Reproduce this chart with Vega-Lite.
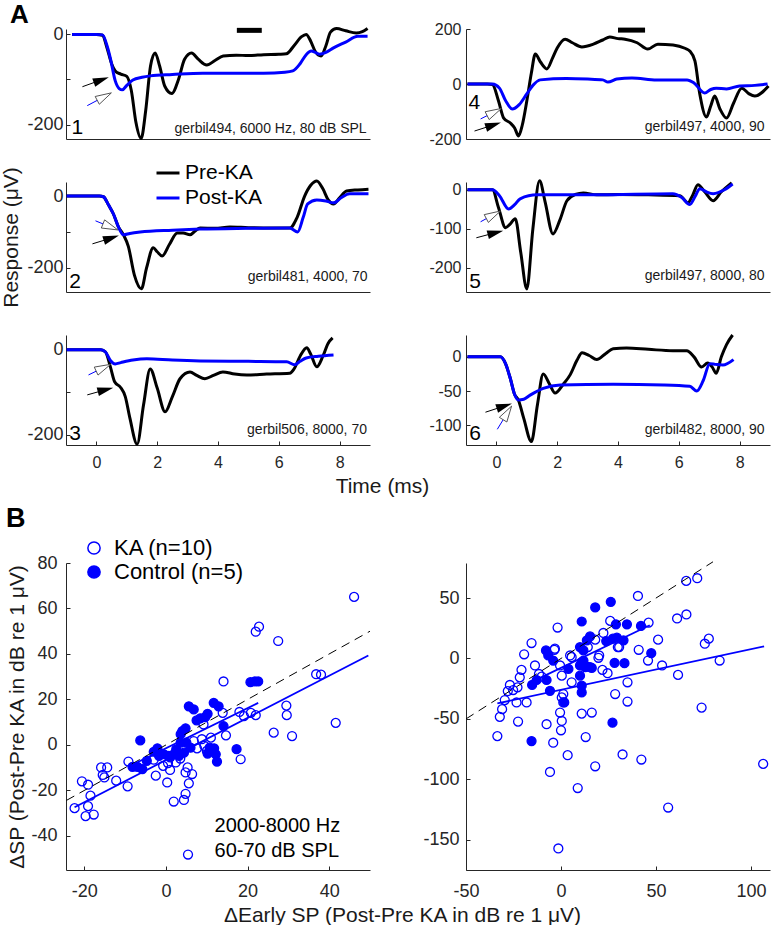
{
"$schema":"https://vega.github.io/schema/vega-lite/v6.json",
"autosize":{"type":"pad"},
"padding":{"left":0,"top":1,"right":0,"bottom":0},
"config":{"font":"Liberation Sans","view":{"stroke":null},
 "axis":{"grid":false,"tickSize":4,"domainColor":"#262626","tickColor":"#262626","labelColor":"#262626","titleColor":"#1a1a1a","titleFontWeight":"normal","domainWidth":1,"tickWidth":1},
 "legend":{"labelFont":"Liberation Sans"}},
"datasets":{
"tr":[
{"p":1,"s":"Pre-KA","t":-0.8,"v":0},{"p":1,"s":"Pre-KA","t":0.0,"v":0},{"p":1,"s":"Pre-KA","t":0.2,"v":-2},{"p":1,"s":"Pre-KA","t":0.35,"v":-30},{"p":1,"s":"Pre-KA","t":0.5,"v":-65},{"p":1,"s":"Pre-KA","t":0.62,"v":-81},{"p":1,"s":"Pre-KA","t":0.8,"v":-88},{"p":1,"s":"Pre-KA","t":1.0,"v":-93},{"p":1,"s":"Pre-KA","t":1.15,"v":-125},{"p":1,"s":"Pre-KA","t":1.3,"v":-195},{"p":1,"s":"Pre-KA","t":1.47,"v":-231},{"p":1,"s":"Pre-KA","t":1.62,"v":-170},{"p":1,"s":"Pre-KA","t":1.78,"v":-70},{"p":1,"s":"Pre-KA","t":1.93,"v":-41},{"p":1,"s":"Pre-KA","t":2.08,"v":-70},{"p":1,"s":"Pre-KA","t":2.25,"v":-115},{"p":1,"s":"Pre-KA","t":2.48,"v":-131},{"p":1,"s":"Pre-KA","t":2.7,"v":-100},{"p":1,"s":"Pre-KA","t":2.9,"v":-55},{"p":1,"s":"Pre-KA","t":3.13,"v":-41},{"p":1,"s":"Pre-KA","t":3.35,"v":-55},{"p":1,"s":"Pre-KA","t":3.63,"v":-68},{"p":1,"s":"Pre-KA","t":3.9,"v":-58},{"p":1,"s":"Pre-KA","t":4.17,"v":-48},{"p":1,"s":"Pre-KA","t":4.6,"v":-46},{"p":1,"s":"Pre-KA","t":5.0,"v":-47},{"p":1,"s":"Pre-KA","t":5.5,"v":-45},{"p":1,"s":"Pre-KA","t":6.0,"v":-44},{"p":1,"s":"Pre-KA","t":6.25,"v":-43},{"p":1,"s":"Pre-KA","t":6.5,"v":-25},{"p":1,"s":"Pre-KA","t":6.75,"v":-5},{"p":1,"s":"Pre-KA","t":6.9,"v":0},{"p":1,"s":"Pre-KA","t":7.05,"v":-15},{"p":1,"s":"Pre-KA","t":7.2,"v":-38},{"p":1,"s":"Pre-KA","t":7.39,"v":-48},{"p":1,"s":"Pre-KA","t":7.55,"v":-25},{"p":1,"s":"Pre-KA","t":7.7,"v":5},{"p":1,"s":"Pre-KA","t":7.9,"v":13},{"p":1,"s":"Pre-KA","t":8.2,"v":8},{"p":1,"s":"Pre-KA","t":8.55,"v":3},{"p":1,"s":"Pre-KA","t":8.75,"v":6},{"p":1,"s":"Pre-KA","t":8.92,"v":13},
{"p":1,"s":"Post-KA","t":-0.8,"v":0},{"p":1,"s":"Post-KA","t":0.0,"v":0},{"p":1,"s":"Post-KA","t":0.2,"v":-1},{"p":1,"s":"Post-KA","t":0.35,"v":-25},{"p":1,"s":"Post-KA","t":0.46,"v":-53},{"p":1,"s":"Post-KA","t":0.62,"v":-103},{"p":1,"s":"Post-KA","t":0.75,"v":-120},{"p":1,"s":"Post-KA","t":0.85,"v":-123},{"p":1,"s":"Post-KA","t":1.0,"v":-113},{"p":1,"s":"Post-KA","t":1.2,"v":-101},{"p":1,"s":"Post-KA","t":1.5,"v":-95},{"p":1,"s":"Post-KA","t":1.77,"v":-92},{"p":1,"s":"Post-KA","t":2.5,"v":-89},{"p":1,"s":"Post-KA","t":3.5,"v":-86},{"p":1,"s":"Post-KA","t":4.5,"v":-86},{"p":1,"s":"Post-KA","t":5.5,"v":-86},{"p":1,"s":"Post-KA","t":6.2,"v":-84},{"p":1,"s":"Post-KA","t":6.46,"v":-81},{"p":1,"s":"Post-KA","t":6.7,"v":-65},{"p":1,"s":"Post-KA","t":6.9,"v":-45},{"p":1,"s":"Post-KA","t":7.07,"v":-37},{"p":1,"s":"Post-KA","t":7.2,"v":-40},{"p":1,"s":"Post-KA","t":7.34,"v":-44},{"p":1,"s":"Post-KA","t":7.55,"v":-40},{"p":1,"s":"Post-KA","t":7.8,"v":-30},{"p":1,"s":"Post-KA","t":8.2,"v":-17},{"p":1,"s":"Post-KA","t":8.6,"v":-4},{"p":1,"s":"Post-KA","t":8.92,"v":-4},
{"p":2,"s":"Pre-KA","t":-0.98,"v":0},{"p":2,"s":"Pre-KA","t":0.1,"v":0},{"p":2,"s":"Pre-KA","t":0.23,"v":-2},{"p":2,"s":"Pre-KA","t":0.4,"v":-25},{"p":2,"s":"Pre-KA","t":0.56,"v":-50},{"p":2,"s":"Pre-KA","t":0.72,"v":-85},{"p":2,"s":"Pre-KA","t":0.89,"v":-108},{"p":2,"s":"Pre-KA","t":1.05,"v":-140},{"p":2,"s":"Pre-KA","t":1.25,"v":-220},{"p":2,"s":"Pre-KA","t":1.48,"v":-258},{"p":2,"s":"Pre-KA","t":1.65,"v":-200},{"p":2,"s":"Pre-KA","t":1.87,"v":-144},{"p":2,"s":"Pre-KA","t":2.0,"v":-155},{"p":2,"s":"Pre-KA","t":2.16,"v":-167},{"p":2,"s":"Pre-KA","t":2.4,"v":-135},{"p":2,"s":"Pre-KA","t":2.66,"v":-103},{"p":2,"s":"Pre-KA","t":2.85,"v":-103},{"p":2,"s":"Pre-KA","t":3.08,"v":-108},{"p":2,"s":"Pre-KA","t":3.25,"v":-97},{"p":2,"s":"Pre-KA","t":3.41,"v":-89},{"p":2,"s":"Pre-KA","t":3.9,"v":-90},{"p":2,"s":"Pre-KA","t":4.39,"v":-86},{"p":2,"s":"Pre-KA","t":5.0,"v":-88},{"p":2,"s":"Pre-KA","t":5.8,"v":-89},{"p":2,"s":"Pre-KA","t":6.36,"v":-89},{"p":2,"s":"Pre-KA","t":6.6,"v":-60},{"p":2,"s":"Pre-KA","t":6.85,"v":0},{"p":2,"s":"Pre-KA","t":7.05,"v":30},{"p":2,"s":"Pre-KA","t":7.25,"v":42},{"p":2,"s":"Pre-KA","t":7.45,"v":20},{"p":2,"s":"Pre-KA","t":7.62,"v":-10},{"p":2,"s":"Pre-KA","t":7.8,"v":-22},{"p":2,"s":"Pre-KA","t":8.0,"v":-5},{"p":2,"s":"Pre-KA","t":8.23,"v":14},{"p":2,"s":"Pre-KA","t":8.6,"v":17},{"p":2,"s":"Pre-KA","t":8.95,"v":19},
{"p":2,"s":"Post-KA","t":-0.98,"v":0},{"p":2,"s":"Post-KA","t":0.1,"v":0},{"p":2,"s":"Post-KA","t":0.23,"v":-2},{"p":2,"s":"Post-KA","t":0.4,"v":-25},{"p":2,"s":"Post-KA","t":0.56,"v":-50},{"p":2,"s":"Post-KA","t":0.72,"v":-85},{"p":2,"s":"Post-KA","t":0.89,"v":-108},{"p":2,"s":"Post-KA","t":1.1,"v":-104},{"p":2,"s":"Post-KA","t":1.44,"v":-100},{"p":2,"s":"Post-KA","t":2.5,"v":-95},{"p":2,"s":"Post-KA","t":3.41,"v":-92},{"p":2,"s":"Post-KA","t":5.0,"v":-90},{"p":2,"s":"Post-KA","t":6.36,"v":-89},{"p":2,"s":"Post-KA","t":6.62,"v":-100},{"p":2,"s":"Post-KA","t":6.8,"v":-60},{"p":2,"s":"Post-KA","t":6.95,"v":-22},{"p":2,"s":"Post-KA","t":7.25,"v":-11},{"p":2,"s":"Post-KA","t":7.55,"v":-14},{"p":2,"s":"Post-KA","t":7.8,"v":-19},{"p":2,"s":"Post-KA","t":8.05,"v":-5},{"p":2,"s":"Post-KA","t":8.33,"v":6},{"p":2,"s":"Post-KA","t":8.95,"v":6},
{"p":3,"s":"Pre-KA","t":-0.98,"v":0},{"p":3,"s":"Pre-KA","t":0.15,"v":0},{"p":3,"s":"Pre-KA","t":0.3,"v":-5},{"p":3,"s":"Pre-KA","t":0.46,"v":-40},{"p":3,"s":"Pre-KA","t":0.6,"v":-75},{"p":3,"s":"Pre-KA","t":0.79,"v":-88},{"p":3,"s":"Pre-KA","t":0.95,"v":-110},{"p":3,"s":"Pre-KA","t":1.1,"v":-160},{"p":3,"s":"Pre-KA","t":1.34,"v":-222},{"p":3,"s":"Pre-KA","t":1.55,"v":-130},{"p":3,"s":"Pre-KA","t":1.77,"v":-45},{"p":3,"s":"Pre-KA","t":2.0,"v":-90},{"p":3,"s":"Pre-KA","t":2.26,"v":-146},{"p":3,"s":"Pre-KA","t":2.5,"v":-110},{"p":3,"s":"Pre-KA","t":2.75,"v":-68},{"p":3,"s":"Pre-KA","t":3.08,"v":-52},{"p":3,"s":"Pre-KA","t":3.3,"v":-60},{"p":3,"s":"Pre-KA","t":3.57,"v":-68},{"p":3,"s":"Pre-KA","t":3.85,"v":-60},{"p":3,"s":"Pre-KA","t":4.16,"v":-52},{"p":3,"s":"Pre-KA","t":4.55,"v":-57},{"p":3,"s":"Pre-KA","t":4.95,"v":-59},{"p":3,"s":"Pre-KA","t":5.6,"v":-57},{"p":3,"s":"Pre-KA","t":6.36,"v":-55},{"p":3,"s":"Pre-KA","t":6.5,"v":-45},{"p":3,"s":"Pre-KA","t":6.7,"v":-15},{"p":3,"s":"Pre-KA","t":6.92,"v":5},{"p":3,"s":"Pre-KA","t":7.05,"v":-10},{"p":3,"s":"Pre-KA","t":7.25,"v":-40},{"p":3,"s":"Pre-KA","t":7.45,"v":-15},{"p":3,"s":"Pre-KA","t":7.62,"v":15},{"p":3,"s":"Pre-KA","t":7.77,"v":28},
{"p":3,"s":"Post-KA","t":-0.98,"v":0},{"p":3,"s":"Post-KA","t":0.15,"v":0},{"p":3,"s":"Post-KA","t":0.3,"v":-5},{"p":3,"s":"Post-KA","t":0.46,"v":-25},{"p":3,"s":"Post-KA","t":0.62,"v":-33},{"p":3,"s":"Post-KA","t":0.8,"v":-30},{"p":3,"s":"Post-KA","t":1.2,"v":-24},{"p":3,"s":"Post-KA","t":1.66,"v":-21},{"p":3,"s":"Post-KA","t":2.5,"v":-24},{"p":3,"s":"Post-KA","t":3.41,"v":-26},{"p":3,"s":"Post-KA","t":5.0,"v":-27},{"p":3,"s":"Post-KA","t":6.26,"v":-28},{"p":3,"s":"Post-KA","t":6.52,"v":-35},{"p":3,"s":"Post-KA","t":6.7,"v":-27},{"p":3,"s":"Post-KA","t":6.9,"v":-19},{"p":3,"s":"Post-KA","t":7.3,"v":-15},{"p":3,"s":"Post-KA","t":7.8,"v":-12},
{"p":4,"s":"Pre-KA","t":-0.95,"v":0},{"p":4,"s":"Pre-KA","t":-0.3,"v":0},{"p":4,"s":"Pre-KA","t":-0.13,"v":-2},{"p":4,"s":"Pre-KA","t":0.07,"v":-62},{"p":4,"s":"Pre-KA","t":0.24,"v":-124},{"p":4,"s":"Pre-KA","t":0.46,"v":-142},{"p":4,"s":"Pre-KA","t":0.6,"v":-160},{"p":4,"s":"Pre-KA","t":0.73,"v":-189},{"p":4,"s":"Pre-KA","t":0.85,"v":-150},{"p":4,"s":"Pre-KA","t":1.0,"v":-62},{"p":4,"s":"Pre-KA","t":1.15,"v":40},{"p":4,"s":"Pre-KA","t":1.28,"v":109},{"p":4,"s":"Pre-KA","t":1.45,"v":80},{"p":4,"s":"Pre-KA","t":1.66,"v":55},{"p":4,"s":"Pre-KA","t":1.85,"v":95},{"p":4,"s":"Pre-KA","t":2.0,"v":131},{"p":4,"s":"Pre-KA","t":2.26,"v":163},{"p":4,"s":"Pre-KA","t":2.5,"v":150},{"p":4,"s":"Pre-KA","t":2.81,"v":135},{"p":4,"s":"Pre-KA","t":3.19,"v":145},{"p":4,"s":"Pre-KA","t":3.5,"v":160},{"p":4,"s":"Pre-KA","t":3.73,"v":171},{"p":4,"s":"Pre-KA","t":4.0,"v":165},{"p":4,"s":"Pre-KA","t":4.23,"v":163},{"p":4,"s":"Pre-KA","t":4.63,"v":150},{"p":4,"s":"Pre-KA","t":4.98,"v":127},{"p":4,"s":"Pre-KA","t":5.31,"v":145},{"p":4,"s":"Pre-KA","t":5.81,"v":142},{"p":4,"s":"Pre-KA","t":6.2,"v":130},{"p":4,"s":"Pre-KA","t":6.36,"v":120},{"p":4,"s":"Pre-KA","t":6.53,"v":84},{"p":4,"s":"Pre-KA","t":6.69,"v":-36},{"p":4,"s":"Pre-KA","t":6.91,"v":-120},{"p":4,"s":"Pre-KA","t":7.05,"v":-80},{"p":4,"s":"Pre-KA","t":7.18,"v":-44},{"p":4,"s":"Pre-KA","t":7.35,"v":-90},{"p":4,"s":"Pre-KA","t":7.57,"v":-124},{"p":4,"s":"Pre-KA","t":7.8,"v":-70},{"p":4,"s":"Pre-KA","t":8.07,"v":-15},{"p":4,"s":"Pre-KA","t":8.3,"v":-35},{"p":4,"s":"Pre-KA","t":8.5,"v":-44},{"p":4,"s":"Pre-KA","t":8.95,"v":-7},
{"p":4,"s":"Post-KA","t":-0.95,"v":0},{"p":4,"s":"Post-KA","t":-0.13,"v":0},{"p":4,"s":"Post-KA","t":0.1,"v":-15},{"p":4,"s":"Post-KA","t":0.3,"v":-60},{"p":4,"s":"Post-KA","t":0.52,"v":-91},{"p":4,"s":"Post-KA","t":0.75,"v":-75},{"p":4,"s":"Post-KA","t":1.0,"v":-36},{"p":4,"s":"Post-KA","t":1.2,"v":-5},{"p":4,"s":"Post-KA","t":1.44,"v":15},{"p":4,"s":"Post-KA","t":2.3,"v":20},{"p":4,"s":"Post-KA","t":3.0,"v":18},{"p":4,"s":"Post-KA","t":3.5,"v":15},{"p":4,"s":"Post-KA","t":3.67,"v":7},{"p":4,"s":"Post-KA","t":3.96,"v":18},{"p":4,"s":"Post-KA","t":4.46,"v":22},{"p":4,"s":"Post-KA","t":5.27,"v":15},{"p":4,"s":"Post-KA","t":6.27,"v":15},{"p":4,"s":"Post-KA","t":6.5,"v":4},{"p":4,"s":"Post-KA","t":6.85,"v":-33},{"p":4,"s":"Post-KA","t":7.05,"v":-20},{"p":4,"s":"Post-KA","t":7.23,"v":-15},{"p":4,"s":"Post-KA","t":7.57,"v":-18},{"p":4,"s":"Post-KA","t":8.0,"v":-7},{"p":4,"s":"Post-KA","t":8.5,"v":-5},{"p":4,"s":"Post-KA","t":8.92,"v":0},
{"p":5,"s":"Pre-KA","t":-0.95,"v":0},{"p":5,"s":"Pre-KA","t":-0.13,"v":0},{"p":5,"s":"Pre-KA","t":0.07,"v":-46},{"p":5,"s":"Pre-KA","t":0.3,"v":-97},{"p":5,"s":"Pre-KA","t":0.45,"v":-88},{"p":5,"s":"Pre-KA","t":0.62,"v":-74},{"p":5,"s":"Pre-KA","t":0.8,"v":-160},{"p":5,"s":"Pre-KA","t":1.0,"v":-254},{"p":5,"s":"Pre-KA","t":1.2,"v":-100},{"p":5,"s":"Pre-KA","t":1.42,"v":23},{"p":5,"s":"Pre-KA","t":1.6,"v":-30},{"p":5,"s":"Pre-KA","t":1.86,"v":-113},{"p":5,"s":"Pre-KA","t":2.1,"v":-75},{"p":5,"s":"Pre-KA","t":2.32,"v":-28},{"p":5,"s":"Pre-KA","t":2.6,"v":-12},{"p":5,"s":"Pre-KA","t":2.86,"v":-8},{"p":5,"s":"Pre-KA","t":3.3,"v":-13},{"p":5,"s":"Pre-KA","t":4.0,"v":-12},{"p":5,"s":"Pre-KA","t":5.0,"v":-13},{"p":5,"s":"Pre-KA","t":6.03,"v":-15},{"p":5,"s":"Pre-KA","t":6.3,"v":-33},{"p":5,"s":"Pre-KA","t":6.45,"v":-15},{"p":5,"s":"Pre-KA","t":6.63,"v":13},{"p":5,"s":"Pre-KA","t":6.85,"v":-5},{"p":5,"s":"Pre-KA","t":7.13,"v":-28},{"p":5,"s":"Pre-KA","t":7.4,"v":-5},{"p":5,"s":"Pre-KA","t":7.74,"v":18},
{"p":5,"s":"Post-KA","t":-0.95,"v":0},{"p":5,"s":"Post-KA","t":-0.13,"v":0},{"p":5,"s":"Post-KA","t":0.1,"v":-15},{"p":5,"s":"Post-KA","t":0.4,"v":-49},{"p":5,"s":"Post-KA","t":0.6,"v":-38},{"p":5,"s":"Post-KA","t":0.78,"v":-23},{"p":5,"s":"Post-KA","t":1.34,"v":-13},{"p":5,"s":"Post-KA","t":3.3,"v":-13},{"p":5,"s":"Post-KA","t":5.8,"v":-10},{"p":5,"s":"Post-KA","t":6.1,"v":-20},{"p":5,"s":"Post-KA","t":6.36,"v":-38},{"p":5,"s":"Post-KA","t":6.55,"v":-15},{"p":5,"s":"Post-KA","t":6.69,"v":3},{"p":5,"s":"Post-KA","t":6.9,"v":-5},{"p":5,"s":"Post-KA","t":7.13,"v":-10},{"p":5,"s":"Post-KA","t":7.5,"v":0},{"p":5,"s":"Post-KA","t":7.77,"v":15},
{"p":6,"s":"Pre-KA","t":-0.95,"v":0},{"p":6,"s":"Pre-KA","t":0.13,"v":0},{"p":6,"s":"Pre-KA","t":0.3,"v":-10},{"p":6,"s":"Pre-KA","t":0.46,"v":-32},{"p":6,"s":"Pre-KA","t":0.6,"v":-55},{"p":6,"s":"Pre-KA","t":0.72,"v":-63},{"p":6,"s":"Pre-KA","t":0.9,"v":-90},{"p":6,"s":"Pre-KA","t":1.15,"v":-124},{"p":6,"s":"Pre-KA","t":1.35,"v":-70},{"p":6,"s":"Pre-KA","t":1.54,"v":-25},{"p":6,"s":"Pre-KA","t":1.75,"v":-40},{"p":6,"s":"Pre-KA","t":1.93,"v":-53},{"p":6,"s":"Pre-KA","t":2.2,"v":-40},{"p":6,"s":"Pre-KA","t":2.43,"v":-26},{"p":6,"s":"Pre-KA","t":2.65,"v":-5},{"p":6,"s":"Pre-KA","t":2.82,"v":6},{"p":6,"s":"Pre-KA","t":3.05,"v":2},{"p":6,"s":"Pre-KA","t":3.3,"v":-4},{"p":6,"s":"Pre-KA","t":3.6,"v":5},{"p":6,"s":"Pre-KA","t":3.84,"v":12},{"p":6,"s":"Pre-KA","t":4.28,"v":13},{"p":6,"s":"Pre-KA","t":5.0,"v":11},{"p":6,"s":"Pre-KA","t":5.81,"v":9},{"p":6,"s":"Pre-KA","t":6.26,"v":9},{"p":6,"s":"Pre-KA","t":6.5,"v":0},{"p":6,"s":"Pre-KA","t":6.75,"v":-15},{"p":6,"s":"Pre-KA","t":6.95,"v":-9},{"p":6,"s":"Pre-KA","t":7.1,"v":-15},{"p":6,"s":"Pre-KA","t":7.23,"v":-24},{"p":6,"s":"Pre-KA","t":7.4,"v":0},{"p":6,"s":"Pre-KA","t":7.57,"v":18},{"p":6,"s":"Pre-KA","t":7.77,"v":32},
{"p":6,"s":"Post-KA","t":-0.95,"v":0},{"p":6,"s":"Post-KA","t":0.13,"v":0},{"p":6,"s":"Post-KA","t":0.3,"v":-10},{"p":6,"s":"Post-KA","t":0.46,"v":-32},{"p":6,"s":"Post-KA","t":0.6,"v":-55},{"p":6,"s":"Post-KA","t":0.72,"v":-63},{"p":6,"s":"Post-KA","t":0.9,"v":-62},{"p":6,"s":"Post-KA","t":1.11,"v":-56},{"p":6,"s":"Post-KA","t":1.54,"v":-46},{"p":6,"s":"Post-KA","t":2.1,"v":-41},{"p":6,"s":"Post-KA","t":3.84,"v":-40},{"p":6,"s":"Post-KA","t":5.5,"v":-41},{"p":6,"s":"Post-KA","t":6.36,"v":-43},{"p":6,"s":"Post-KA","t":6.59,"v":-50},{"p":6,"s":"Post-KA","t":6.8,"v":-35},{"p":6,"s":"Post-KA","t":7.02,"v":-10},{"p":6,"s":"Post-KA","t":7.2,"v":-11},{"p":6,"s":"Post-KA","t":7.45,"v":-12},{"p":6,"s":"Post-KA","t":7.8,"v":-4}
],
"ar":[
{"p":1,"k":"filled","t0":-0.46,"v0":-116,"t1":0.16,"v1":-101},{"p":1,"k":"open","t0":-0.3,"v0":-158,"t1":0.26,"v1":-138},
{"p":2,"k":"open","t0":-0.03,"v0":-69,"t1":0.46,"v1":-86},{"p":2,"k":"filled","t0":-0.13,"v0":-133,"t1":0.49,"v1":-117},
{"p":3,"k":"open","t0":-0.26,"v0":-59,"t1":0.23,"v1":-42},{"p":3,"k":"filled","t0":-0.3,"v0":-106,"t1":0.3,"v1":-94},
{"p":4,"k":"open","t0":-0.52,"v0":-127,"t1":-0.07,"v1":-102},{"p":4,"k":"filled","t0":-0.72,"v0":-171,"t1":-0.1,"v1":-149},
{"p":5,"k":"open","t0":-0.52,"v0":-82,"t1":-0.1,"v1":-64},{"p":5,"k":"filled","t0":-0.66,"v0":-123,"t1":-0.03,"v1":-110},
{"p":6,"k":"filled","t0":-0.36,"v0":-81,"t1":0.26,"v1":-72},{"p":6,"k":"open","t0":0.03,"v0":-106,"t1":0.36,"v1":-82}
],
"st":[{"p":1,"t0":4.62,"t1":5.44,"v":9},{"p":4,"t0":4.0,"t1":4.89,"v":196}],
"nt":[
{"p":1,"txt":"gerbil494, 6000 Hz, 80 dB SPL","t":8.89,"v":-218},
{"p":2,"txt":"gerbil481, 4000, 70","t":8.92,"v":-236},
{"p":3,"txt":"gerbil506, 8000, 70","t":8.9,"v":-198},
{"p":4,"txt":"gerbil497, 4000, 90","t":8.82,"v":-171},
{"p":5,"txt":"gerbil497, 8000, 80","t":8.82,"v":-231},
{"p":6,"txt":"gerbil482, 8000, 90","t":8.82,"v":-113}
],
"nm":[
{"p":1,"n":"1","t":-0.82,"v":-220},{"p":2,"n":"2","t":-0.89,"v":-256},{"p":3,"n":"3","t":-0.89,"v":-212},
{"p":4,"n":"4","t":-0.92,"v":-91},{"p":5,"n":"5","t":-0.89,"v":-251},{"p":6,"n":"6","t":-0.89,"v":-122}
],
"sc":[
{"pl":"L","g":"KA (n=10)","x":-22.4,"y":-27.8},{"pl":"L","g":"KA (n=10)","x":-20.6,"y":-16.0},{"pl":"L","g":"KA (n=10)","x":-19.1,"y":-17.5},{"pl":"L","g":"KA (n=10)","x":-19.7,"y":-31.3},{"pl":"L","g":"KA (n=10)","x":-19.1,"y":-26.9},{"pl":"L","g":"KA (n=10)","x":-18.5,"y":-22.3},{"pl":"L","g":"KA (n=10)","x":-17.7,"y":-30.6},{"pl":"L","g":"KA (n=10)","x":-15.9,"y":-9.9},{"pl":"L","g":"KA (n=10)","x":-15.5,"y":-13.2},{"pl":"L","g":"KA (n=10)","x":-14.4,"y":-9.9},{"pl":"L","g":"KA (n=10)","x":-15.1,"y":-14.3},{"pl":"L","g":"KA (n=10)","x":-12.2,"y":-15.7},{"pl":"L","g":"KA (n=10)","x":-9.4,"y":-18.2},{"pl":"L","g":"KA (n=10)","x":-9.2,"y":-7.3},{"pl":"L","g":"KA (n=10)","x":-2.5,"y":-13.5},{"pl":"L","g":"KA (n=10)","x":-0.7,"y":-9.2},{"pl":"L","g":"KA (n=10)","x":0.3,"y":-16.5},{"pl":"L","g":"KA (n=10)","x":1.9,"y":-24.9},{"pl":"L","g":"KA (n=10)","x":2.4,"y":-7.7},{"pl":"L","g":"KA (n=10)","x":2.7,"y":-3.4},{"pl":"L","g":"KA (n=10)","x":4.4,"y":-24.2},{"pl":"L","g":"KA (n=10)","x":4.8,"y":-21.5},{"pl":"L","g":"KA (n=10)","x":5.6,"y":-16.9},{"pl":"L","g":"KA (n=10)","x":4.8,"y":-12.1},{"pl":"L","g":"KA (n=10)","x":5.3,"y":-9.9},{"pl":"L","g":"KA (n=10)","x":6.4,"y":-12.8},{"pl":"L","g":"KA (n=10)","x":5.4,"y":-48.2},{"pl":"L","g":"KA (n=10)","x":6.8,"y":1.7},{"pl":"L","g":"KA (n=10)","x":7.6,"y":-1.5},{"pl":"L","g":"KA (n=10)","x":8.8,"y":2.5},{"pl":"L","g":"KA (n=10)","x":9.2,"y":9.0},{"pl":"L","g":"KA (n=10)","x":9.4,"y":-0.4},{"pl":"L","g":"KA (n=10)","x":10.0,"y":-2.6},{"pl":"L","g":"KA (n=10)","x":11.0,"y":3.2},{"pl":"L","g":"KA (n=10)","x":14.1,"y":27.9},{"pl":"L","g":"KA (n=10)","x":13.9,"y":14.1},{"pl":"L","g":"KA (n=10)","x":14.7,"y":4.2},{"pl":"L","g":"KA (n=10)","x":18.0,"y":14.5},{"pl":"L","g":"KA (n=10)","x":18.3,"y":-6.3},{"pl":"L","g":"KA (n=10)","x":19.1,"y":12.7},{"pl":"L","g":"KA (n=10)","x":20.8,"y":14.1},{"pl":"L","g":"KA (n=10)","x":22.0,"y":13.1},{"pl":"L","g":"KA (n=10)","x":26.4,"y":5.4},{"pl":"L","g":"KA (n=10)","x":29.5,"y":17.3},{"pl":"L","g":"KA (n=10)","x":29.6,"y":13.1},{"pl":"L","g":"KA (n=10)","x":30.9,"y":3.9},{"pl":"L","g":"KA (n=10)","x":36.8,"y":31.1},{"pl":"L","g":"KA (n=10)","x":38.0,"y":30.9},{"pl":"L","g":"KA (n=10)","x":41.6,"y":9.7},{"pl":"L","g":"KA (n=10)","x":46.1,"y":65.1},{"pl":"L","g":"KA (n=10)","x":22.0,"y":49.8},{"pl":"L","g":"KA (n=10)","x":22.8,"y":52.0},{"pl":"L","g":"KA (n=10)","x":27.5,"y":45.7},{"pl":"L","g":"KA (n=10)","x":-3.0,"y":-6.5},{"pl":"L","g":"KA (n=10)","x":1.0,"y":-11.0},{"pl":"L","g":"KA (n=10)","x":3.5,"y":-6.0},{"pl":"L","g":"KA (n=10)","x":-1.5,"y":-4.0},{"pl":"L","g":"KA (n=10)","x":0.5,"y":-8.0},
{"pl":"L","g":"Control (n=5)","x":-6.3,"y":2.0},{"pl":"L","g":"Control (n=5)","x":-2.1,"y":-1.5},{"pl":"L","g":"Control (n=5)","x":-8.2,"y":-9.6},{"pl":"L","g":"Control (n=5)","x":-7.0,"y":-9.6},{"pl":"L","g":"Control (n=5)","x":-5.8,"y":-10.6},{"pl":"L","g":"Control (n=5)","x":-4.7,"y":-7.0},{"pl":"L","g":"Control (n=5)","x":-1.7,"y":-4.8},{"pl":"L","g":"Control (n=5)","x":-0.5,"y":-4.1},{"pl":"L","g":"Control (n=5)","x":0.7,"y":-4.8},{"pl":"L","g":"Control (n=5)","x":1.9,"y":-4.1},{"pl":"L","g":"Control (n=5)","x":3.2,"y":-4.8},{"pl":"L","g":"Control (n=5)","x":4.4,"y":-3.4},{"pl":"L","g":"Control (n=5)","x":6.0,"y":-1.2},{"pl":"L","g":"Control (n=5)","x":3.6,"y":1.0},{"pl":"L","g":"Control (n=5)","x":5.0,"y":1.0},{"pl":"L","g":"Control (n=5)","x":4.0,"y":6.1},{"pl":"L","g":"Control (n=5)","x":4.8,"y":7.3},{"pl":"L","g":"Control (n=5)","x":5.6,"y":17.0},{"pl":"L","g":"Control (n=5)","x":6.8,"y":15.6},{"pl":"L","g":"Control (n=5)","x":7.5,"y":10.8},{"pl":"L","g":"Control (n=5)","x":8.4,"y":11.7},{"pl":"L","g":"Control (n=5)","x":9.6,"y":12.2},{"pl":"L","g":"Control (n=5)","x":10.2,"y":13.7},{"pl":"L","g":"Control (n=5)","x":11.7,"y":18.5},{"pl":"L","g":"Control (n=5)","x":12.9,"y":17.0},{"pl":"L","g":"Control (n=5)","x":14.1,"y":8.3},{"pl":"L","g":"Control (n=5)","x":10.7,"y":-1.2},{"pl":"L","g":"Control (n=5)","x":11.8,"y":-1.5},{"pl":"L","g":"Control (n=5)","x":12.2,"y":-4.1},{"pl":"L","g":"Control (n=5)","x":12.5,"y":-7.3},{"pl":"L","g":"Control (n=5)","x":10.2,"y":-3.8},{"pl":"L","g":"Control (n=5)","x":17.3,"y":-1.9},{"pl":"L","g":"Control (n=5)","x":20.7,"y":27.6},{"pl":"L","g":"Control (n=5)","x":21.8,"y":27.9},{"pl":"L","g":"Control (n=5)","x":22.6,"y":27.9},{"pl":"L","g":"Control (n=5)","x":3.6,"y":4.7},{"pl":"L","g":"Control (n=5)","x":-3.0,"y":-3.0},{"pl":"L","g":"Control (n=5)","x":1.0,"y":-5.5},{"pl":"L","g":"Control (n=5)","x":2.5,"y":-2.0},
{"pl":"R","g":"KA (n=10)","x":-33.5,"y":-64.2},{"pl":"R","g":"KA (n=10)","x":-32.2,"y":-48.3},{"pl":"R","g":"KA (n=10)","x":-31.0,"y":-41.9},{"pl":"R","g":"KA (n=10)","x":-29.6,"y":-34.4},{"pl":"R","g":"KA (n=10)","x":-26.9,"y":-21.9},{"pl":"R","g":"KA (n=10)","x":-25.2,"y":-26.1},{"pl":"R","g":"KA (n=10)","x":-22.9,"y":-23.9},{"pl":"R","g":"KA (n=10)","x":-23.4,"y":-36.4},{"pl":"R","g":"KA (n=10)","x":-22.6,"y":-52.2},{"pl":"R","g":"KA (n=10)","x":-21.7,"y":-15.6},{"pl":"R","g":"KA (n=10)","x":-20.8,"y":-9.4},{"pl":"R","g":"KA (n=10)","x":-19.4,"y":3.5},{"pl":"R","g":"KA (n=10)","x":-18.1,"y":-36.4},{"pl":"R","g":"KA (n=10)","x":-13.7,"y":-5.8},{"pl":"R","g":"KA (n=10)","x":-11.6,"y":-12.8},{"pl":"R","g":"KA (n=10)","x":-10.2,"y":-15.0},{"pl":"R","g":"KA (n=10)","x":-7.6,"y":-54.4},{"pl":"R","g":"KA (n=10)","x":-5.8,"y":-93.9},{"pl":"R","g":"KA (n=10)","x":-4.1,"y":-69.7},{"pl":"R","g":"KA (n=10)","x":-3.2,"y":8.1},{"pl":"R","g":"KA (n=10)","x":-1.4,"y":-157.2},{"pl":"R","g":"KA (n=10)","x":-0.5,"y":-44.7},{"pl":"R","g":"KA (n=10)","x":0.4,"y":-51.7},{"pl":"R","g":"KA (n=10)","x":0.0,"y":-59.4},{"pl":"R","g":"KA (n=10)","x":-0.5,"y":-5.8},{"pl":"R","g":"KA (n=10)","x":0.4,"y":-14.2},{"pl":"R","g":"KA (n=10)","x":0.4,"y":-32.2},{"pl":"R","g":"KA (n=10)","x":1.2,"y":-29.4},{"pl":"R","g":"KA (n=10)","x":1.2,"y":-36.4},{"pl":"R","g":"KA (n=10)","x":3.5,"y":-80.0},{"pl":"R","g":"KA (n=10)","x":4.8,"y":2.5},{"pl":"R","g":"KA (n=10)","x":5.6,"y":-19.7},{"pl":"R","g":"KA (n=10)","x":8.8,"y":-107.2},{"pl":"R","g":"KA (n=10)","x":10.9,"y":-45.6},{"pl":"R","g":"KA (n=10)","x":13.0,"y":-65.0},{"pl":"R","g":"KA (n=10)","x":16.2,"y":-44.7},{"pl":"R","g":"KA (n=10)","x":18.0,"y":-89.2},{"pl":"R","g":"KA (n=10)","x":14.1,"y":9.4},{"pl":"R","g":"KA (n=10)","x":20.1,"y":2.5},{"pl":"R","g":"KA (n=10)","x":21.8,"y":-9.4},{"pl":"R","g":"KA (n=10)","x":24.5,"y":-12.2},{"pl":"R","g":"KA (n=10)","x":28.5,"y":-29.4},{"pl":"R","g":"KA (n=10)","x":29.9,"y":9.4},{"pl":"R","g":"KA (n=10)","x":32.4,"y":-79.4},{"pl":"R","g":"KA (n=10)","x":35.0,"y":-19.7},{"pl":"R","g":"KA (n=10)","x":35.0,"y":-35.6},{"pl":"R","g":"KA (n=10)","x":40.9,"y":7.2},{"pl":"R","g":"KA (n=10)","x":42.3,"y":-83.6},{"pl":"R","g":"KA (n=10)","x":45.8,"y":-1.7},{"pl":"R","g":"KA (n=10)","x":53.2,"y":-5.8},{"pl":"R","g":"KA (n=10)","x":56.4,"y":-123.3},{"pl":"R","g":"KA (n=10)","x":61.6,"y":-13.6},{"pl":"R","g":"KA (n=10)","x":74.0,"y":-40.6},{"pl":"R","g":"KA (n=10)","x":83.5,"y":-1.7},{"pl":"R","g":"KA (n=10)","x":106.4,"y":-87.2},{"pl":"R","g":"KA (n=10)","x":75.7,"y":12.2},{"pl":"R","g":"KA (n=10)","x":77.8,"y":16.4},{"pl":"R","g":"KA (n=10)","x":-15.5,"y":12.8},{"pl":"R","g":"KA (n=10)","x":-1.8,"y":25.6},{"pl":"R","g":"KA (n=10)","x":5.6,"y":1.1},{"pl":"R","g":"KA (n=10)","x":18.0,"y":15.6},{"pl":"R","g":"KA (n=10)","x":22.3,"y":21.1},{"pl":"R","g":"KA (n=10)","x":25.9,"y":31.1},{"pl":"R","g":"KA (n=10)","x":40.5,"y":51.7},{"pl":"R","g":"KA (n=10)","x":46.1,"y":29.7},{"pl":"R","g":"KA (n=10)","x":51.1,"y":15.6},{"pl":"R","g":"KA (n=10)","x":61.1,"y":33.1},{"pl":"R","g":"KA (n=10)","x":66.0,"y":36.4},{"pl":"R","g":"KA (n=10)","x":65.9,"y":64.2},{"pl":"R","g":"KA (n=10)","x":71.7,"y":66.4},{"pl":"R","g":"KA (n=10)","x":-3.5,"y":7.2},{"pl":"R","g":"KA (n=10)","x":19.7,"y":0.6},{"pl":"R","g":"KA (n=10)","x":30.6,"y":9.4},{"pl":"R","g":"KA (n=10)","x":-28.0,"y":-27.0},
{"pl":"R","g":"Control (n=5)","x":26.2,"y":46.9},{"pl":"R","g":"Control (n=5)","x":18.0,"y":42.2},{"pl":"R","g":"Control (n=5)","x":10.9,"y":30.6},{"pl":"R","g":"Control (n=5)","x":28.9,"y":28.3},{"pl":"R","g":"Control (n=5)","x":34.7,"y":28.3},{"pl":"R","g":"Control (n=5)","x":42.1,"y":26.9},{"pl":"R","g":"Control (n=5)","x":15.3,"y":18.3},{"pl":"R","g":"Control (n=5)","x":13.6,"y":15.0},{"pl":"R","g":"Control (n=5)","x":10.0,"y":9.4},{"pl":"R","g":"Control (n=5)","x":23.8,"y":14.4},{"pl":"R","g":"Control (n=5)","x":27.3,"y":16.4},{"pl":"R","g":"Control (n=5)","x":29.4,"y":17.2},{"pl":"R","g":"Control (n=5)","x":32.9,"y":15.0},{"pl":"R","g":"Control (n=5)","x":47.5,"y":4.4},{"pl":"R","g":"Control (n=5)","x":28.2,"y":-3.6},{"pl":"R","g":"Control (n=5)","x":-7.9,"y":6.7},{"pl":"R","g":"Control (n=5)","x":-6.7,"y":2.5},{"pl":"R","g":"Control (n=5)","x":-4.1,"y":-1.7},{"pl":"R","g":"Control (n=5)","x":10.9,"y":-3.1},{"pl":"R","g":"Control (n=5)","x":12.7,"y":-7.2},{"pl":"R","g":"Control (n=5)","x":15.3,"y":-7.2},{"pl":"R","g":"Control (n=5)","x":3.9,"y":-8.6},{"pl":"R","g":"Control (n=5)","x":11.8,"y":6.7},{"pl":"R","g":"Control (n=5)","x":10.0,"y":-5.8},{"pl":"R","g":"Control (n=5)","x":11.8,"y":-1.7},{"pl":"R","g":"Control (n=5)","x":13.6,"y":-6.7},{"pl":"R","g":"Control (n=5)","x":16.2,"y":-7.8},{"pl":"R","g":"Control (n=5)","x":10.0,"y":-14.2},{"pl":"R","g":"Control (n=5)","x":10.9,"y":-22.5},{"pl":"R","g":"Control (n=5)","x":10.9,"y":-28.1},{"pl":"R","g":"Control (n=5)","x":-12.8,"y":-17.8},{"pl":"R","g":"Control (n=5)","x":-15.2,"y":-21.9},{"pl":"R","g":"Control (n=5)","x":-7.6,"y":-17.8},{"pl":"R","g":"Control (n=5)","x":-5.8,"y":-26.7},{"pl":"R","g":"Control (n=5)","x":1.7,"y":-36.4},{"pl":"R","g":"Control (n=5)","x":-15.5,"y":-68.3},{"pl":"R","g":"Control (n=5)","x":27.1,"y":-53.1},{"pl":"R","g":"Control (n=5)","x":33.4,"y":-3.9}
],
"ft":[
{"pl":"L","k":"id","x0":-24.4,"y0":-24.4,"x1":50,"y1":50},{"pl":"L","k":"KA","x0":-22.4,"y0":-27.4,"x1":49.6,"y1":39.3},{"pl":"L","k":"Ctl","x0":-8,"y0":-8.5,"x1":22.6,"y1":18.5},
{"pl":"R","k":"id","x0":-50,"y0":-50,"x1":80,"y1":80},{"pl":"R","k":"KA","x0":-33.5,"y0":-37.2,"x1":106.9,"y1":10},{"pl":"R","k":"Ctl","x0":-17,"y0":-20.6,"x1":46.7,"y1":27.5}
],
"lb":[{"txt":"2000-8000 Hz","x":11.9,"y":-38.4},{"txt":"60-70 dB SPL","x":11.9,"y":-49.3}]
},
"columns":2,
"spacing":{"row":43,"column":96},
"bounds":"flush",
"resolve":{"scale":{"color":"independent","fill":"independent","stroke":"independent"},"legend":{"color":"independent","fill":"independent","stroke":"independent"}},
"concat":[
{"width":304,"height":110,
 "title":{"text":"A","anchor":"start","frame":"group","fontSize":26,"fontWeight":"bold","dx":-56,"dy":28,"offset":2,"baseline":"alphabetic","color":"#000000"},
 "layer":[
  {"data":{"name":"tr"},"transform":[{"filter":"datum.p==1 && datum.s=='Pre-KA'"}],"mark":{"type":"line","strokeWidth":3,"interpolate":"monotone"},
   "encoding":{"x":{"field":"t","type":"quantitative","scale":{"domain":[-1,9],"nice":false,"zero":false},"axis":{"ticks":false,"labels":false,"title":null}},
    "y":{"field":"v","type":"quantitative","scale":{"domain":[-232,12],"nice":false,"zero":false},"axis":{"values":[0,-100,-200],"labelExpr":"datum.value==-100?'':''+datum.value","labelFontSize":18,"tickSize":-4,"labelPadding":7,"title":null}},
    "color":{"field":"s","type":"nominal","scale":{"domain":["Pre-KA","Post-KA"],"range":["#000000","#0000ff"]},"legend":null}}},
  {"data":{"name":"tr"},"transform":[{"filter":"datum.p==1 && datum.s=='Post-KA'"}],"mark":{"type":"line","strokeWidth":3,"interpolate":"monotone"},
   "encoding":{"x":{"field":"t","type":"quantitative"},"y":{"field":"v","type":"quantitative"},"color":{"field":"s","type":"nominal","legend":null}}},
  {"data":{"name":"st"},"transform":[{"filter":"datum.p==1"}],"mark":{"type":"rule","strokeWidth":5,"color":"#000000"},
   "encoding":{"x":{"field":"t0","type":"quantitative"},"x2":{"field":"t1"},"y":{"field":"v","type":"quantitative"}}},
  {"data":{"name":"ar"},"transform":[{"filter":"datum.p==1"}],"mark":{"type":"rule","strokeWidth":1},
   "encoding":{"x":{"field":"t0","type":"quantitative"},"y":{"field":"v0","type":"quantitative"},"x2":{"field":"t1"},"y2":{"field":"v1"},"stroke":{"field":"k","type":"nominal","scale":{"domain":["filled","open"],"range":["#000000","#0000ff"]},"legend":null}}},
  {"data":{"name":"ar"},"transform":[{"filter":"datum.p==1 && datum.k=='filled'"}],"mark":{"type":"point","shape":"M-1,-0.55L1,0L-1,0.55Z","size":256,"filled":true,"color":"#000000","opacity":1,"angle":-20},
   "encoding":{"x":{"field":"t1","type":"quantitative"},"y":{"field":"v1","type":"quantitative"}}},
  {"data":{"name":"ar"},"transform":[{"filter":"datum.p==1 && datum.k=='open'"}],"mark":{"type":"point","shape":"M-1,-0.55L1,0L-1,0.55Z","size":256,"filled":true,"fill":"#ffffff","stroke":"#404040","strokeWidth":0.8,"opacity":1,"angle":-28},
   "encoding":{"x":{"field":"t1","type":"quantitative"},"y":{"field":"v1","type":"quantitative"}}},
  {"data":{"name":"nt"},"transform":[{"filter":"datum.p==1"}],"mark":{"type":"text","align":"right","baseline":"alphabetic","fontSize":14,"color":"#1a1a1a"},
   "encoding":{"x":{"field":"t","type":"quantitative"},"y":{"field":"v","type":"quantitative"},"text":{"field":"txt"}}},
  {"data":{"name":"nm"},"transform":[{"filter":"datum.p==1"}],"mark":{"type":"text","align":"left","baseline":"alphabetic","fontSize":21,"color":"#000000"},
   "encoding":{"x":{"field":"t","type":"quantitative"},"y":{"field":"v","type":"quantitative"},"text":{"field":"n"}}}
 ]},
{"width":304,"height":110,
 "layer":[
  {"data":{"name":"tr"},"transform":[{"filter":"datum.p==4 && datum.s=='Pre-KA'"}],"mark":{"type":"line","strokeWidth":3,"interpolate":"monotone"},
   "encoding":{"x":{"field":"t","type":"quantitative","scale":{"domain":[-1,9],"nice":false,"zero":false},"axis":{"ticks":false,"labels":false,"title":null}},
    "y":{"field":"v","type":"quantitative","scale":{"domain":[-200,200],"nice":false,"zero":false},"axis":{"values":[200,0,-200],"labelExpr":"''+datum.value","labelFontSize":16,"tickSize":-4,"labelPadding":9,"title":null}},
    "color":{"field":"s","type":"nominal","scale":{"domain":["Pre-KA","Post-KA"],"range":["#000000","#0000ff"]},"legend":null}}},
  {"data":{"name":"tr"},"transform":[{"filter":"datum.p==4 && datum.s=='Post-KA'"}],"mark":{"type":"line","strokeWidth":3,"interpolate":"monotone"},
   "encoding":{"x":{"field":"t","type":"quantitative"},"y":{"field":"v","type":"quantitative"},"color":{"field":"s","type":"nominal","legend":null}}},
  {"data":{"name":"st"},"transform":[{"filter":"datum.p==4"}],"mark":{"type":"rule","strokeWidth":5,"color":"#000000"},
   "encoding":{"x":{"field":"t0","type":"quantitative"},"x2":{"field":"t1"},"y":{"field":"v","type":"quantitative"}}},
  {"data":{"name":"ar"},"transform":[{"filter":"datum.p==4"}],"mark":{"type":"rule","strokeWidth":1},
   "encoding":{"x":{"field":"t0","type":"quantitative"},"y":{"field":"v0","type":"quantitative"},"x2":{"field":"t1"},"y2":{"field":"v1"},"stroke":{"field":"k","type":"nominal","scale":{"domain":["filled","open"],"range":["#000000","#0000ff"]},"legend":null}}},
  {"data":{"name":"ar"},"transform":[{"filter":"datum.p==4 && datum.k=='filled'"}],"mark":{"type":"point","shape":"M-1,-0.55L1,0L-1,0.55Z","size":256,"filled":true,"color":"#000000","opacity":1,"angle":-18},
   "encoding":{"x":{"field":"t1","type":"quantitative"},"y":{"field":"v1","type":"quantitative"}}},
  {"data":{"name":"ar"},"transform":[{"filter":"datum.p==4 && datum.k=='open'"}],"mark":{"type":"point","shape":"M-1,-0.55L1,0L-1,0.55Z","size":256,"filled":true,"fill":"#ffffff","stroke":"#404040","strokeWidth":0.8,"opacity":1,"angle":-27},
   "encoding":{"x":{"field":"t1","type":"quantitative"},"y":{"field":"v1","type":"quantitative"}}},
  {"data":{"name":"nt"},"transform":[{"filter":"datum.p==4"}],"mark":{"type":"text","align":"right","baseline":"alphabetic","fontSize":14,"color":"#1a1a1a"},
   "encoding":{"x":{"field":"t","type":"quantitative"},"y":{"field":"v","type":"quantitative"},"text":{"field":"txt"}}},
  {"data":{"name":"nm"},"transform":[{"filter":"datum.p==4"}],"mark":{"type":"text","align":"left","baseline":"alphabetic","fontSize":21,"color":"#000000"},
   "encoding":{"x":{"field":"t","type":"quantitative"},"y":{"field":"v","type":"quantitative"},"text":{"field":"n"}}}
 ]},
{"width":304,"height":110,
 "layer":[
  {"data":{"name":"tr"},"transform":[{"filter":"datum.p==2 && datum.s=='Pre-KA'"}],"mark":{"type":"line","strokeWidth":3,"interpolate":"monotone"},
   "encoding":{"x":{"field":"t","type":"quantitative","scale":{"domain":[-1,9],"nice":false,"zero":false},"axis":{"ticks":false,"labels":false,"title":null}},
    "y":{"field":"v","type":"quantitative","scale":{"domain":[-267,39],"nice":false,"zero":false},"axis":{"values":[0,-100,-200],"labelExpr":"datum.value==-100?'':''+datum.value","labelFontSize":18,"tickSize":-4,"labelPadding":7,"title":"Response (μV)","titleFontSize":21,"titleX":-49,"titleBaseline":"alphabetic"}},
    "color":{"field":"s","type":"nominal","scale":{"domain":["Pre-KA","Post-KA"],"range":["#000000","#0000ff"]},"legend":{"orient":"none","legendX":89,"legendY":-22,"title":null,"symbolType":"stroke","symbolSize":529,"symbolStrokeWidth":3,"labelFontSize":21,"labelOffset":4,"rowPadding":2,"labelColor":"#000000"}}}},
  {"data":{"name":"tr"},"transform":[{"filter":"datum.p==2 && datum.s=='Post-KA'"}],"mark":{"type":"line","strokeWidth":3,"interpolate":"monotone"},
   "encoding":{"x":{"field":"t","type":"quantitative"},"y":{"field":"v","type":"quantitative"},"color":{"field":"s","type":"nominal","legend":null}}},
  {"data":{"name":"ar"},"transform":[{"filter":"datum.p==2"}],"mark":{"type":"rule","strokeWidth":1},
   "encoding":{"x":{"field":"t0","type":"quantitative"},"y":{"field":"v0","type":"quantitative"},"x2":{"field":"t1"},"y2":{"field":"v1"},"stroke":{"field":"k","type":"nominal","scale":{"domain":["filled","open"],"range":["#000000","#0000ff"]},"legend":null}}},
  {"data":{"name":"ar"},"transform":[{"filter":"datum.p==2 && datum.k=='filled'"}],"mark":{"type":"point","shape":"M-1,-0.55L1,0L-1,0.55Z","size":256,"filled":true,"color":"#000000","opacity":1,"angle":-18},
   "encoding":{"x":{"field":"t1","type":"quantitative"},"y":{"field":"v1","type":"quantitative"}}},
  {"data":{"name":"ar"},"transform":[{"filter":"datum.p==2 && datum.k=='open'"}],"mark":{"type":"point","shape":"M-1,-0.55L1,0L-1,0.55Z","size":256,"filled":true,"fill":"#ffffff","stroke":"#404040","strokeWidth":0.8,"opacity":1,"angle":22},
   "encoding":{"x":{"field":"t1","type":"quantitative"},"y":{"field":"v1","type":"quantitative"}}},
  {"data":{"name":"nt"},"transform":[{"filter":"datum.p==2"}],"mark":{"type":"text","align":"right","baseline":"alphabetic","fontSize":14,"color":"#1a1a1a"},
   "encoding":{"x":{"field":"t","type":"quantitative"},"y":{"field":"v","type":"quantitative"},"text":{"field":"txt"}}},
  {"data":{"name":"nm"},"transform":[{"filter":"datum.p==2"}],"mark":{"type":"text","align":"left","baseline":"alphabetic","fontSize":21,"color":"#000000"},
   "encoding":{"x":{"field":"t","type":"quantitative"},"y":{"field":"v","type":"quantitative"},"text":{"field":"n"}}}
 ]},
{"width":304,"height":110,
 "layer":[
  {"data":{"name":"tr"},"transform":[{"filter":"datum.p==5 && datum.s=='Pre-KA'"}],"mark":{"type":"line","strokeWidth":3,"interpolate":"monotone"},
   "encoding":{"x":{"field":"t","type":"quantitative","scale":{"domain":[-1,9],"nice":false,"zero":false},"axis":{"ticks":false,"labels":false,"title":null}},
    "y":{"field":"v","type":"quantitative","scale":{"domain":[-262,20],"nice":false,"zero":false},"axis":{"values":[0,-100,-200],"labelExpr":"''+datum.value","labelFontSize":16,"tickSize":-4,"labelPadding":9,"title":null}},
    "color":{"field":"s","type":"nominal","scale":{"domain":["Pre-KA","Post-KA"],"range":["#000000","#0000ff"]},"legend":null}}},
  {"data":{"name":"tr"},"transform":[{"filter":"datum.p==5 && datum.s=='Post-KA'"}],"mark":{"type":"line","strokeWidth":3,"interpolate":"monotone"},
   "encoding":{"x":{"field":"t","type":"quantitative"},"y":{"field":"v","type":"quantitative"},"color":{"field":"s","type":"nominal","legend":null}}},
  {"data":{"name":"ar"},"transform":[{"filter":"datum.p==5"}],"mark":{"type":"rule","strokeWidth":1},
   "encoding":{"x":{"field":"t0","type":"quantitative"},"y":{"field":"v0","type":"quantitative"},"x2":{"field":"t1"},"y2":{"field":"v1"},"stroke":{"field":"k","type":"nominal","scale":{"domain":["filled","open"],"range":["#000000","#0000ff"]},"legend":null}}},
  {"data":{"name":"ar"},"transform":[{"filter":"datum.p==5 && datum.k=='filled'"}],"mark":{"type":"point","shape":"M-1,-0.55L1,0L-1,0.55Z","size":256,"filled":true,"color":"#000000","opacity":1,"angle":-15},
   "encoding":{"x":{"field":"t1","type":"quantitative"},"y":{"field":"v1","type":"quantitative"}}},
  {"data":{"name":"ar"},"transform":[{"filter":"datum.p==5 && datum.k=='open'"}],"mark":{"type":"point","shape":"M-1,-0.55L1,0L-1,0.55Z","size":256,"filled":true,"fill":"#ffffff","stroke":"#404040","strokeWidth":0.8,"opacity":1,"angle":-28},
   "encoding":{"x":{"field":"t1","type":"quantitative"},"y":{"field":"v1","type":"quantitative"}}},
  {"data":{"name":"nt"},"transform":[{"filter":"datum.p==5"}],"mark":{"type":"text","align":"right","baseline":"alphabetic","fontSize":14,"color":"#1a1a1a"},
   "encoding":{"x":{"field":"t","type":"quantitative"},"y":{"field":"v","type":"quantitative"},"text":{"field":"txt"}}},
  {"data":{"name":"nm"},"transform":[{"filter":"datum.p==5"}],"mark":{"type":"text","align":"left","baseline":"alphabetic","fontSize":21,"color":"#000000"},
   "encoding":{"x":{"field":"t","type":"quantitative"},"y":{"field":"v","type":"quantitative"},"text":{"field":"n"}}}
 ]},
{"width":304,"height":110,
 "layer":[
  {"data":{"name":"tr"},"transform":[{"filter":"datum.p==3 && datum.s=='Pre-KA'"}],"mark":{"type":"line","strokeWidth":3,"interpolate":"monotone"},
   "encoding":{"x":{"field":"t","type":"quantitative","scale":{"domain":[-1,9],"nice":false,"zero":false},"axis":{"values":[0,2,4,6,8],"labelExpr":"''+datum.value","labelFontSize":16,"tickSize":-4,"labelPadding":13,"title":"Time (ms)","titleFontSize":21,"titleX":316,"titleY":47,"titleBaseline":"alphabetic","titleAlign":"center"}},
    "y":{"field":"v","type":"quantitative","scale":{"domain":[-224,35],"nice":false,"zero":false},"axis":{"values":[0,-100,-200],"labelExpr":"datum.value==-100?'':''+datum.value","labelFontSize":18,"tickSize":-4,"labelPadding":7,"title":null}},
    "color":{"field":"s","type":"nominal","scale":{"domain":["Pre-KA","Post-KA"],"range":["#000000","#0000ff"]},"legend":null}}},
  {"data":{"name":"tr"},"transform":[{"filter":"datum.p==3 && datum.s=='Post-KA'"}],"mark":{"type":"line","strokeWidth":3,"interpolate":"monotone"},
   "encoding":{"x":{"field":"t","type":"quantitative"},"y":{"field":"v","type":"quantitative"},"color":{"field":"s","type":"nominal","legend":null}}},
  {"data":{"name":"ar"},"transform":[{"filter":"datum.p==3"}],"mark":{"type":"rule","strokeWidth":1},
   "encoding":{"x":{"field":"t0","type":"quantitative"},"y":{"field":"v0","type":"quantitative"},"x2":{"field":"t1"},"y2":{"field":"v1"},"stroke":{"field":"k","type":"nominal","scale":{"domain":["filled","open"],"range":["#000000","#0000ff"]},"legend":null}}},
  {"data":{"name":"ar"},"transform":[{"filter":"datum.p==3 && datum.k=='filled'"}],"mark":{"type":"point","shape":"M-1,-0.55L1,0L-1,0.55Z","size":256,"filled":true,"color":"#000000","opacity":1,"angle":-15},
   "encoding":{"x":{"field":"t1","type":"quantitative"},"y":{"field":"v1","type":"quantitative"}}},
  {"data":{"name":"ar"},"transform":[{"filter":"datum.p==3 && datum.k=='open'"}],"mark":{"type":"point","shape":"M-1,-0.55L1,0L-1,0.55Z","size":256,"filled":true,"fill":"#ffffff","stroke":"#404040","strokeWidth":0.8,"opacity":1,"angle":-25},
   "encoding":{"x":{"field":"t1","type":"quantitative"},"y":{"field":"v1","type":"quantitative"}}},
  {"data":{"name":"nt"},"transform":[{"filter":"datum.p==3"}],"mark":{"type":"text","align":"right","baseline":"alphabetic","fontSize":14,"color":"#1a1a1a"},
   "encoding":{"x":{"field":"t","type":"quantitative"},"y":{"field":"v","type":"quantitative"},"text":{"field":"txt"}}},
  {"data":{"name":"nm"},"transform":[{"filter":"datum.p==3"}],"mark":{"type":"text","align":"left","baseline":"alphabetic","fontSize":21,"color":"#000000"},
   "encoding":{"x":{"field":"t","type":"quantitative"},"y":{"field":"v","type":"quantitative"},"text":{"field":"n"}}}
 ]},
{"width":304,"height":110,
 "layer":[
  {"data":{"name":"tr"},"transform":[{"filter":"datum.p==6 && datum.s=='Pre-KA'"}],"mark":{"type":"line","strokeWidth":3,"interpolate":"monotone"},
   "encoding":{"x":{"field":"t","type":"quantitative","scale":{"domain":[-1,9],"nice":false,"zero":false},"axis":{"values":[0,2,4,6,8],"labelExpr":"''+datum.value","labelFontSize":16,"tickSize":-4,"labelPadding":13,"title":null}},
    "y":{"field":"v","type":"quantitative","scale":{"domain":[-129,32],"nice":false,"zero":false},"axis":{"values":[0,-50,-100],"labelExpr":"''+datum.value","labelFontSize":16,"tickSize":-4,"labelPadding":9,"title":null}},
    "color":{"field":"s","type":"nominal","scale":{"domain":["Pre-KA","Post-KA"],"range":["#000000","#0000ff"]},"legend":null}}},
  {"data":{"name":"tr"},"transform":[{"filter":"datum.p==6 && datum.s=='Post-KA'"}],"mark":{"type":"line","strokeWidth":3,"interpolate":"monotone"},
   "encoding":{"x":{"field":"t","type":"quantitative"},"y":{"field":"v","type":"quantitative"},"color":{"field":"s","type":"nominal","legend":null}}},
  {"data":{"name":"ar"},"transform":[{"filter":"datum.p==6"}],"mark":{"type":"rule","strokeWidth":1},
   "encoding":{"x":{"field":"t0","type":"quantitative"},"y":{"field":"v0","type":"quantitative"},"x2":{"field":"t1"},"y2":{"field":"v1"},"stroke":{"field":"k","type":"nominal","scale":{"domain":["filled","open"],"range":["#000000","#0000ff"]},"legend":null}}},
  {"data":{"name":"ar"},"transform":[{"filter":"datum.p==6 && datum.k=='filled'"}],"mark":{"type":"point","shape":"M-1,-0.55L1,0L-1,0.55Z","size":256,"filled":true,"color":"#000000","opacity":1,"angle":-18},
   "encoding":{"x":{"field":"t1","type":"quantitative"},"y":{"field":"v1","type":"quantitative"}}},
  {"data":{"name":"ar"},"transform":[{"filter":"datum.p==6 && datum.k=='open'"}],"mark":{"type":"point","shape":"M-1,-0.55L1,0L-1,0.55Z","size":256,"filled":true,"fill":"#ffffff","stroke":"#404040","strokeWidth":0.8,"opacity":1,"angle":-58},
   "encoding":{"x":{"field":"t1","type":"quantitative"},"y":{"field":"v1","type":"quantitative"}}},
  {"data":{"name":"nt"},"transform":[{"filter":"datum.p==6"}],"mark":{"type":"text","align":"right","baseline":"alphabetic","fontSize":14,"color":"#1a1a1a"},
   "encoding":{"x":{"field":"t","type":"quantitative"},"y":{"field":"v","type":"quantitative"},"text":{"field":"txt"}}},
  {"data":{"name":"nm"},"transform":[{"filter":"datum.p==6"}],"mark":{"type":"text","align":"left","baseline":"alphabetic","fontSize":21,"color":"#000000"},
   "encoding":{"x":{"field":"t","type":"quantitative"},"y":{"field":"v","type":"quantitative"},"text":{"field":"n"}}}
 ]},
{"width":304,"height":32,"data":{"values":[{"a":1}]},"mark":{"type":"point","opacity":0},"encoding":{}},
{"width":304,"height":32,"data":{"values":[{"a":1}]},"mark":{"type":"point","opacity":0},"encoding":{}},
{"width":304,"height":307,
 "title":{"text":"B","anchor":"start","frame":"group","fontSize":27,"fontWeight":"bold","dx":-60,"dy":25,"offset":8,"baseline":"alphabetic","color":"#000000"},
 "layer":[
  {"data":{"name":"sc"},"transform":[{"filter":"datum.pl=='L'"}],"mark":{"type":"point","shape":"circle","size":80,"stroke":"#0000ff","strokeWidth":1.3,"opacity":1},
   "encoding":{"x":{"field":"x","type":"quantitative","scale":{"domain":[-24.5,50],"nice":false,"zero":false},"axis":{"values":[-20,0,20,40],"labelExpr":"''+datum.value","labelFontSize":18,"tickSize":-4,"labelPadding":16,"title":"ΔEarly SP (Post-Pre KA in dB re 1 μV)","titleFontSize":21,"titleX":336,"titleY":51,"titleBaseline":"alphabetic","titleAlign":"center"}},
    "y":{"field":"y","type":"quantitative","scale":{"domain":[-55,80],"nice":false,"zero":false},"axis":{"values":[-40,-20,0,20,40,60,80],"labelExpr":"''+datum.value","labelFontSize":18,"tickSize":-4,"labelPadding":13,"title":"ΔSP (Post-Pre KA in dB re 1 μV)","titleFontSize":21,"titleX":-43,"titleBaseline":"alphabetic"}},
    "fill":{"field":"g","type":"nominal","scale":{"domain":["KA (n=10)","Control (n=5)"],"range":["transparent","#0000ff"]},"legend":{"orient":"none","legendX":17,"legendY":-26,"title":null,"symbolType":"circle","symbolSize":150,"symbolStrokeColor":"#0000ff","symbolStrokeWidth":1.5,"labelFontSize":22,"labelOffset":9,"rowPadding":2,"labelColor":"#000000"}}}},
  {"data":{"name":"ft"},"transform":[{"filter":"datum.pl=='L' && datum.k=='id'"}],"mark":{"type":"rule","color":"#000000","strokeWidth":1,"strokeDash":[9,6]},
   "encoding":{"x":{"field":"x0","type":"quantitative"},"y":{"field":"y0","type":"quantitative"},"x2":{"field":"x1"},"y2":{"field":"y1"}}},
  {"data":{"name":"ft"},"transform":[{"filter":"datum.pl=='L' && datum.k!='id'"}],"mark":{"type":"rule","color":"#0000ff","strokeWidth":1.8},
   "encoding":{"x":{"field":"x0","type":"quantitative"},"y":{"field":"y0","type":"quantitative"},"x2":{"field":"x1"},"y2":{"field":"y1"}}},
  {"data":{"name":"lb"},"mark":{"type":"text","align":"left","baseline":"alphabetic","fontSize":20,"color":"#000000"},
   "encoding":{"x":{"field":"x","type":"quantitative"},"y":{"field":"y","type":"quantitative"},"text":{"field":"txt"}}}
 ]},
{"width":304,"height":307,
 "layer":[
  {"data":{"name":"sc"},"transform":[{"filter":"datum.pl=='R'"}],"mark":{"type":"point","shape":"circle","size":80,"stroke":"#0000ff","strokeWidth":1.3,"opacity":1},
   "encoding":{"x":{"field":"x","type":"quantitative","scale":{"domain":[-50,110],"nice":false,"zero":false},"axis":{"values":[-50,0,50,100],"labelExpr":"''+datum.value","labelFontSize":18,"tickSize":-4,"labelPadding":16,"labelFlush":false,"title":null}},
    "y":{"field":"y","type":"quantitative","scale":{"domain":[-175,79],"nice":false,"zero":false},"axis":{"values":[-150,-100,-50,0,50],"labelExpr":"''+datum.value","labelFontSize":18,"tickSize":-4,"labelPadding":11,"title":null}},
    "fill":{"field":"g","type":"nominal","scale":{"domain":["KA (n=10)","Control (n=5)"],"range":["transparent","#0000ff"]},"legend":null}}},
  {"data":{"name":"ft"},"transform":[{"filter":"datum.pl=='R' && datum.k=='id'"}],"mark":{"type":"rule","color":"#000000","strokeWidth":1,"strokeDash":[9,6]},
   "encoding":{"x":{"field":"x0","type":"quantitative"},"y":{"field":"y0","type":"quantitative"},"x2":{"field":"x1"},"y2":{"field":"y1"}}},
  {"data":{"name":"ft"},"transform":[{"filter":"datum.pl=='R' && datum.k!='id'"}],"mark":{"type":"rule","color":"#0000ff","strokeWidth":1.8},
   "encoding":{"x":{"field":"x0","type":"quantitative"},"y":{"field":"y0","type":"quantitative"},"x2":{"field":"x1"},"y2":{"field":"y1"}}}
 ]}
]
}
